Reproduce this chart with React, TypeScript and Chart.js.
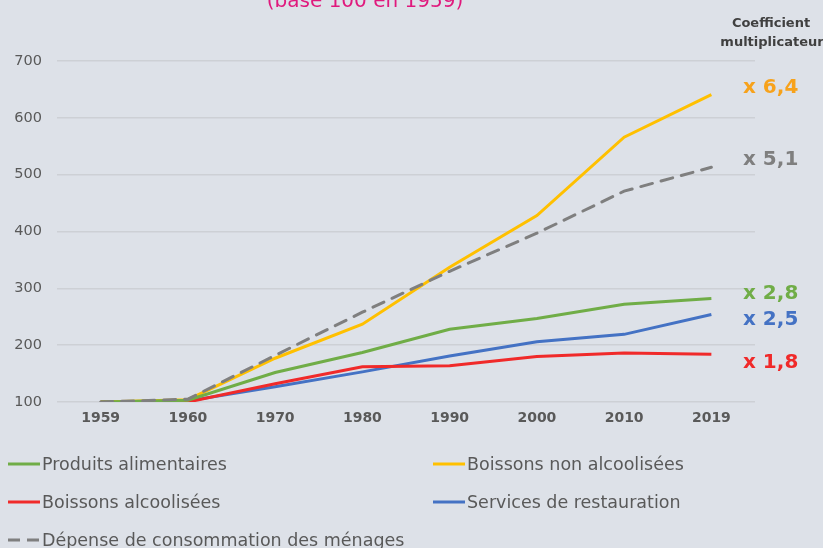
import React, { useEffect, useRef } from "react";
import { Chart, registerables } from "chart.js";

Chart.register(...registerables);

const years = ["1959", "1960", "1970", "1980", "1990", "2000", "2010", "2019"];
const produitsAlimentaires = [100, 103, 152, 187, 228, 247, 272, 282];
const boissonsNonAlcoolisees = [100, 104, 177, 237, 337, 428, 566, 641];
const boissonsAlcoolisees = [100, 100, 132, 162, 164, 180, 186, 184];
const servicesRestauration = [100, 102, 127, 153, 181, 206, 219, 254];
const depenseMenages = [100, 105, 182, 258, 330, 397, 471, 513];
const coefficients = ["x 2,8", "x 6,4", "x 1,8", "x 2,5", "x 5,1"];
const yTicks = [100, 200, 300, 400, 500, 600, 700];

const FONT = "'DejaVu Sans', sans-serif";
const BG = "#dde1e8";

const colors = ["#70ad47", "#ffc000", "#f02a2a", "#4472c4", "#7f7f7f"];
const labelColors = ["#70ad47", "#f7a21b", "#f02a2a", "#4472c4", "#7f7f7f"];
const names = [
  "Produits alimentaires",
  "Boissons non alcoolisées",
  "Boissons alcoolisées",
  "Services de restauration",
  "Dépense de consommation des ménages",
];
const series = [
  produitsAlimentaires,
  boissonsNonAlcoolisees,
  boissonsAlcoolisees,
  servicesRestauration,
  depenseMenages,
];
const labelOffsets = [-5, -7, 9, 5, -7];

export default function App() {
  const ref = useRef<HTMLCanvasElement>(null);
  useEffect(() => {
    document.body.style.margin = "0";
    document.body.style.background = BG;
    const ctx = ref.current!.getContext("2d")!;
    const overlay = {
      id: "overlay",
      beforeDraw(chart: any) {
        const c = chart.ctx;
        c.save();
        c.fillStyle = BG;
        c.fillRect(0, 0, chart.width, chart.height);
        c.restore();
      },
      afterDraw(chart: any) {
        const c = chart.ctx;
        const y = chart.scales.y;
        const ca = chart.chartArea;
        c.save();
        // title (cut off at top)
        c.fillStyle = "#e0197d";
        c.font = `20px ${FONT}`;
        c.textAlign = "center";
        c.textBaseline = "alphabetic";
        c.fillText("(base 100 en 1959)", 365, 7);
        // coefficient header
        c.fillStyle = "#404040";
        c.font = `bold 13px ${FONT}`;
        c.textAlign = "center";
        c.fillText("Coefficient", 771, 27);
        c.fillText("multiplicateur", 772, 46);
        // end labels
        c.textAlign = "left";
        c.textBaseline = "middle";
        c.font = `bold 20px ${FONT}`;
        series.forEach((s, i) => {
          const py = y.getPixelForValue(s[s.length - 1]) + labelOffsets[i];
          c.fillStyle = labelColors[i];
          c.fillText(coefficients[i], ca.right - 12, py);
        });
        // legend
        const pos = [
          [8, 464],
          [433, 464],
          [8, 502],
          [433, 502],
          [8, 540],
        ];
        c.font = `17.5px ${FONT}`;
        names.forEach((n, i) => {
          const [lx, ly] = pos[i];
          c.strokeStyle = colors[i];
          c.lineWidth = 3;
          c.lineCap = "butt";
          c.beginPath();
          if (i === 4) c.setLineDash([12, 7]);
          else c.setLineDash([]);
          c.moveTo(lx, ly);
          c.lineTo(lx + 32, ly);
          c.stroke();
          c.setLineDash([]);
          c.fillStyle = "#595959";
          c.textAlign = "left";
          c.fillText(n, lx + 34, ly + 1);
        });
        c.restore();
      },
    };
    const chart = new Chart(ctx, {
      type: "line",
      data: {
        labels: years,
        datasets: series.map((s, i) => ({
          label: names[i],
          data: s,
          borderColor: colors[i],
          backgroundColor: colors[i],
          borderWidth: 3,
          pointRadius: 0,
          tension: 0,
          borderDash: i === 4 ? [12, 9] : [],
          borderCapStyle: i === 4 ? "round" : "butt",
          order: i === 4 ? 0 : 1,
        })),
      },
      options: {
        animation: false,
        responsive: false,
        layout: { padding: { left: 0, top: 61, right: 68, bottom: 0 } },
        plugins: { legend: { display: false }, tooltip: { enabled: false } },
        scales: {
          x: {
            offset: true,
            grid: { display: false, drawTicks: false },
            border: { display: false },
            ticks: {
              padding: 8,
              color: "#595959",
              font: { family: FONT, size: 14, weight: "bold" },
            },
            afterFit: (s: any) => {
              s.height = 548 - 402;
            },
          },
          y: {
            min: 100,
            max: 700,
            afterBuildTicks: (s: any) => {
              s.ticks = yTicks.map((v) => ({ value: v }));
            },
            grid: { color: "#cdd0d5", lineWidth: 1.5, drawTicks: false },
            border: { display: false },
            ticks: {
              padding: 15,
              color: "#595959",
              font: { family: FONT, size: 14.5 },
            },
            afterFit: (s: any) => {
              s.width = 57;
            },
          },
        },
      },
      plugins: [overlay],
    } as any);
    return () => chart.destroy();
  }, []);
  return (
    <div style={{ width: 823, height: 548 }}>
      <canvas ref={ref} width={823} height={548} style={{ display: "block" }} />
    </div>
  );
}
